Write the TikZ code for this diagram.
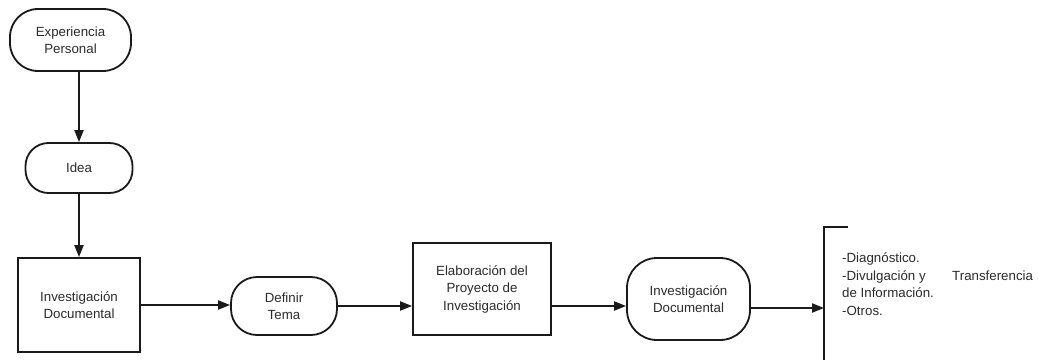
\documentclass[tikz,border=0pt]{standalone}
\usepackage{fontspec}
\setmainfont{Liberation Sans}
\usetikzlibrary{arrows.meta}
\definecolor{ink}{HTML}{1A1A1A}
\definecolor{txt}{HTML}{2B2B2B}
\begin{document}
\begin{tikzpicture}[x=1pt,y=-1pt,
  every node/.style={font=\fontsize{13.3}{17.5}\selectfont, text=txt, align=center, inner sep=0pt},
  term/.style={draw=ink, line width=1.8pt, rounded corners=#1},
  term/.default=26pt,
  proc/.style={draw=ink, line width=1.8pt},
  flow/.style={draw=ink, line width=2pt, -{Triangle[length=12pt,width=9pt]}},
  plain/.style={draw=ink, line width=2pt}]
\useasboundingbox (0,0) rectangle (1038,359);

% flow nodes
\node[term=28pt, minimum width=121pt, minimum height=62pt] (exp) at (70.5,40) {Experiencia\\Personal};
\node[term=23pt, minimum width=107pt, minimum height=50pt] (idea) at (79,168) {Idea};
\node[proc, minimum width=122pt, minimum height=94pt] (invA) at (79,305) {Investigación\\Documental};
\node[term=26pt, minimum width=106pt, minimum height=58pt] (defin) at (284,306) {Definir\\Tema};
\node[proc, minimum width=138pt, minimum height=92pt] (elab) at (482,289) {Elaboración del\\Proyecto de\\Investigación};
\node[term=30pt, minimum width=123pt, minimum height=82pt] (invB) at (688.5,299) {Investigación\\Documental};

% bracket with the list of outcomes
\coordinate (brk) at (824,227);
\draw[plain] (848,227) -- (brk) -- (824,362);
\node[anchor=west, align=left] (outc) at (842,284)
  {-Diagnóstico.\\\makebox[110pt][l]{-Divulgación y}Transferencia\\de Información.\\-Otros.};

% connectors
\draw[flow] (exp.south -| idea.north) -- (idea.north);
\draw[flow] (idea.south) -- (invA.north);
\draw[flow] (invA.east) -- (invA.east -| defin.west);
\draw[flow] (defin.east) -- (defin.east -| elab.west);
\draw[flow] (elab.east |- defin.east) -- (defin.east -| invB.west);
\draw[flow] ([yshift=-9pt]invB.east) -- ([yshift=-9pt]invB.east -| brk);
\end{tikzpicture}
\end{document}
